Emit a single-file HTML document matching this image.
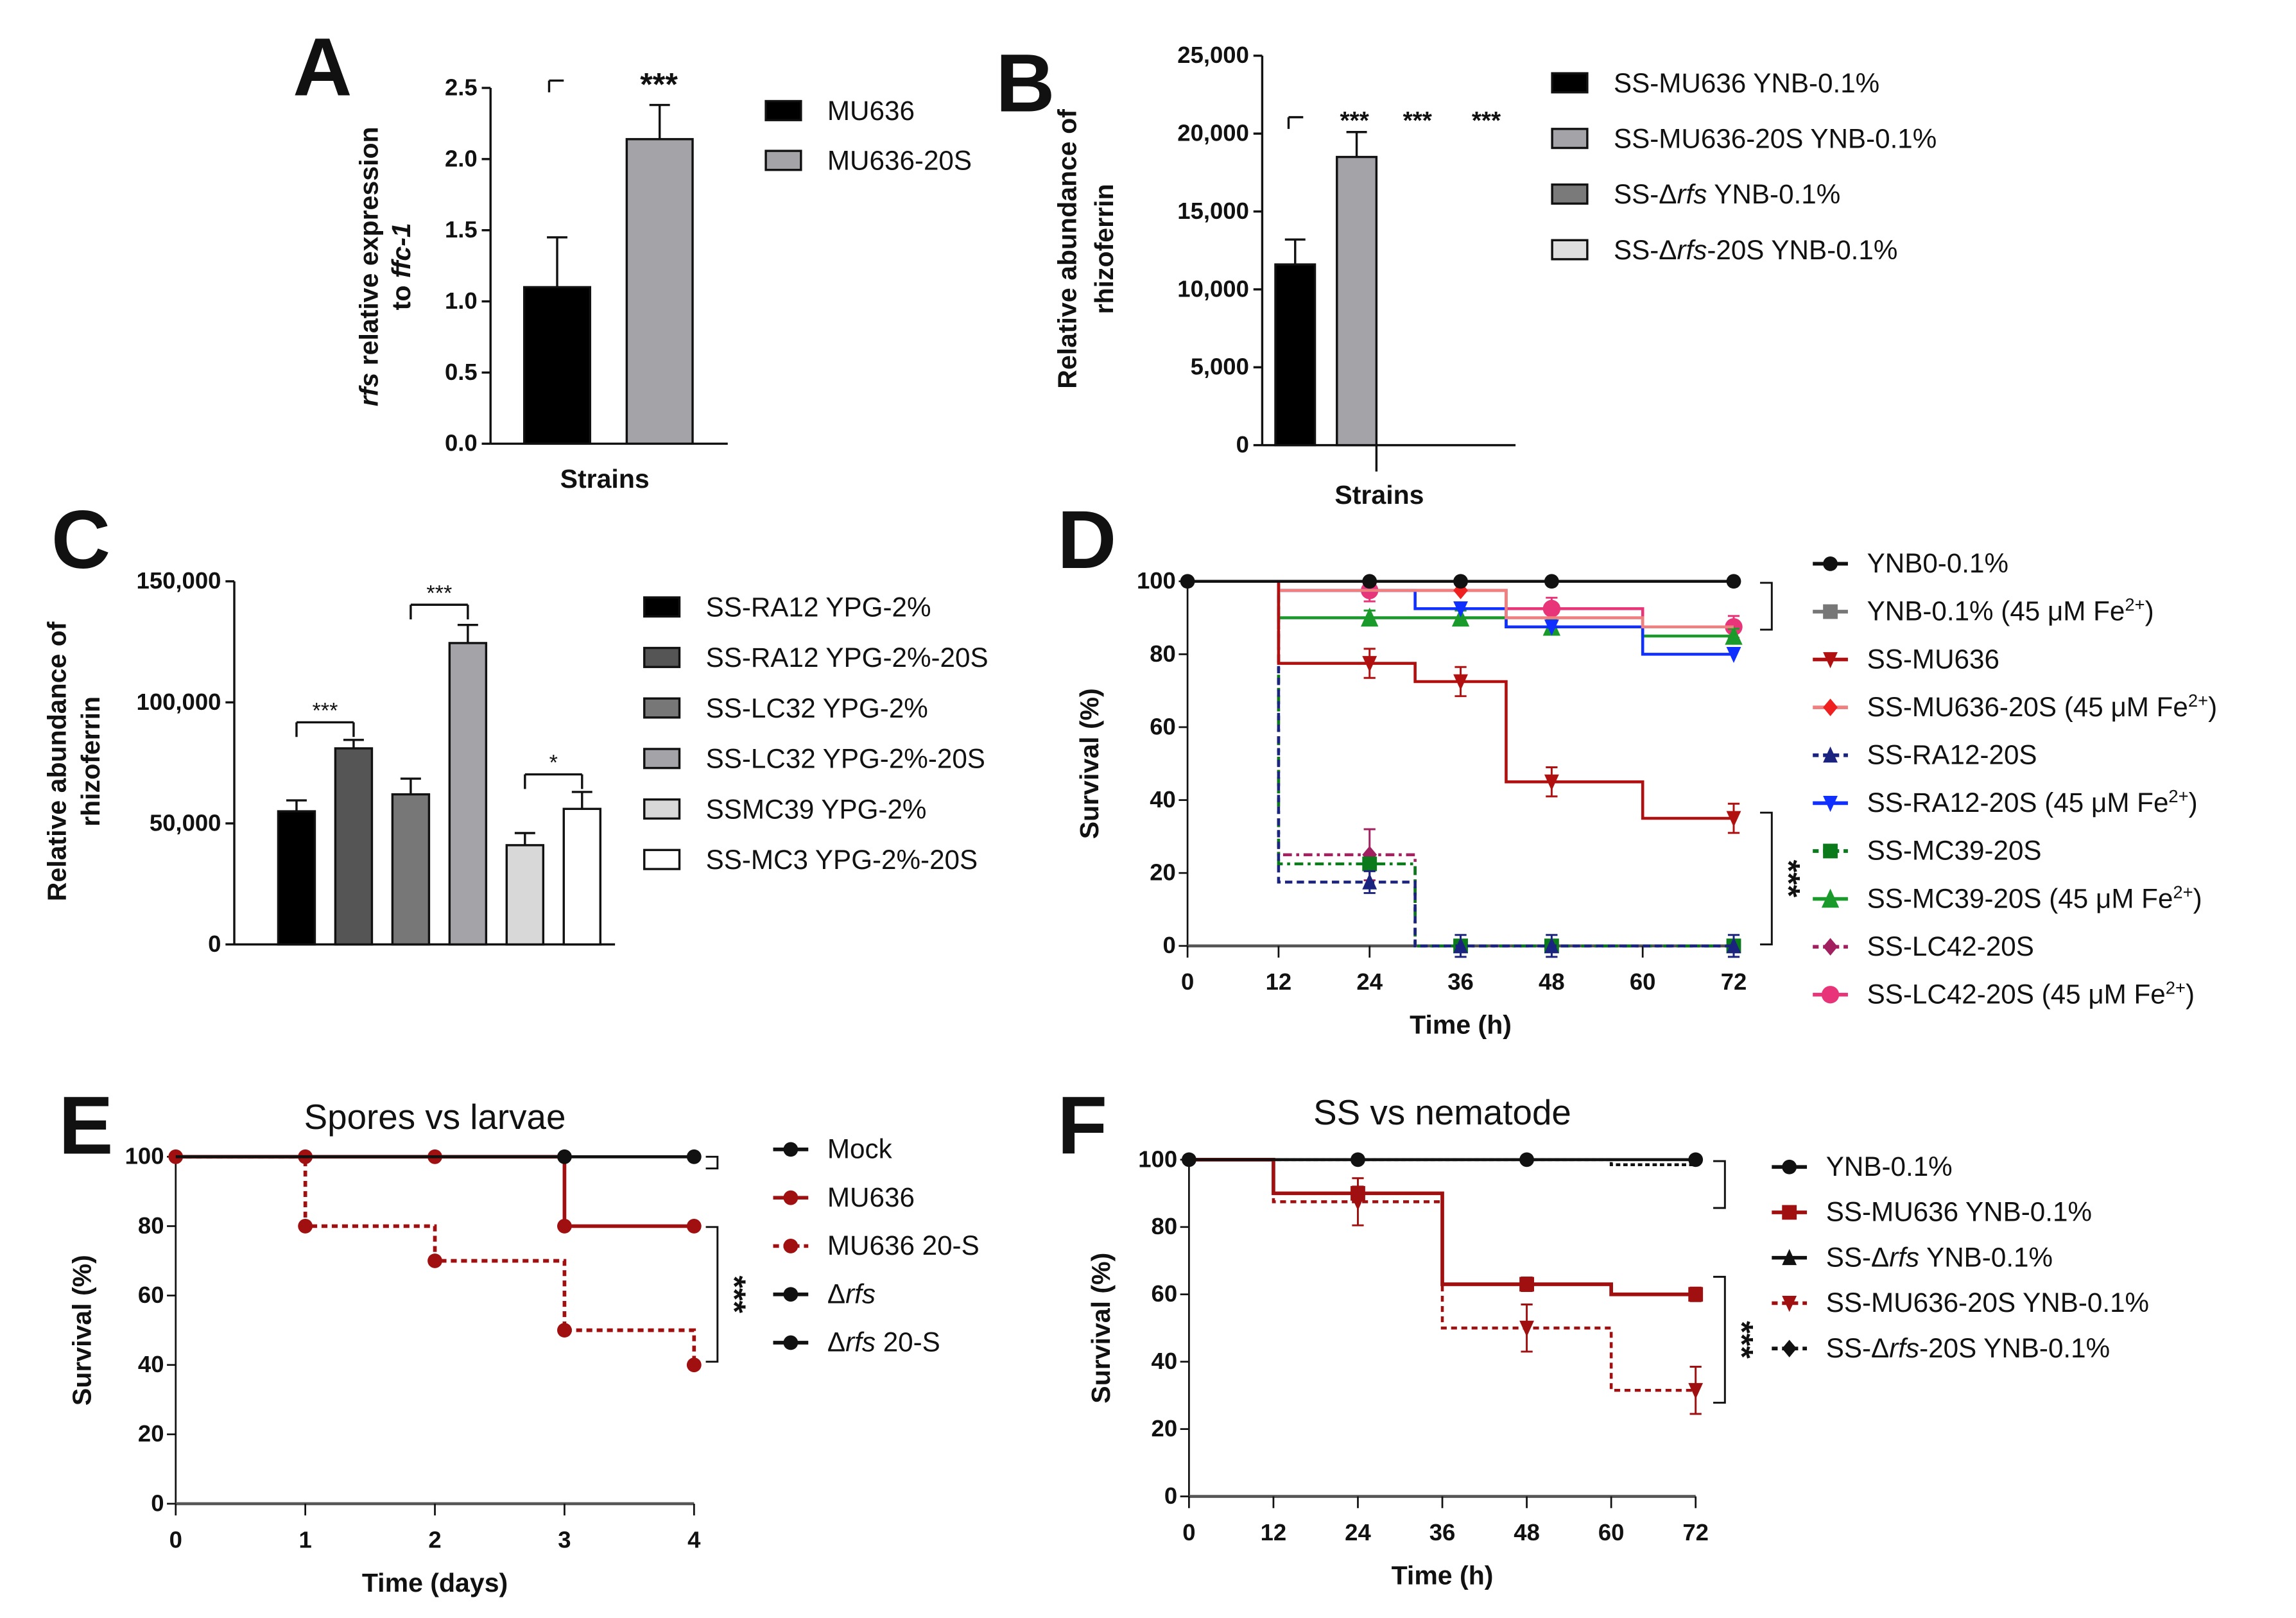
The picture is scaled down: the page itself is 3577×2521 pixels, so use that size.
<!DOCTYPE html>
<html><head><meta charset="utf-8"><style>
html,body{margin:0;padding:0;background:#fff;}
svg{display:block;font-family:"Liberation Sans",Arial,sans-serif;}
</style></head><body>
<svg id="fig" xmlns="http://www.w3.org/2000/svg" width="3577" height="2521" viewBox="0 0 1568 1105"></svg>
<script>
// ---------- DATA ----------
const aCats = ["MU636","MU636-20S"];
const aVals = [1.1, 2.14];
const aErr = [1.45, 2.38];
const aTicks = [0,0.5,1.0,1.5,2.0,2.5];
const bCats = ["SS-MU636 YNB-0.1%","SS-MU636-20S YNB-0.1%","SS-Δrfs YNB-0.1%","SS-Δrfs-20S YNB-0.1%"];
const bVals = [11600, 18500, 0, 0];
const bErr = [13200, 20100, 0, 0];
const bTicks = [0,5000,10000,15000,20000,25000];
const cCats = ["SS-RA12 YPG-2%","SS-RA12 YPG-2%-20S","SS-LC32 YPG-2%","SS-LC32 YPG-2%-20S","SSMC39 YPG-2%","SS-MC3 YPG-2%-20S"];
const cVals = [55000, 81000, 62000, 124500, 41000, 56000];
const cErr = [59500, 84500, 68500, 132000, 46000, 63000];
const cTicks = [0,50000,100000,150000];
const dTimes = [0,12,30,42,60,72];
const dYNB0 = [100,100,100,100,100,100];
const dYNBFe = [100,100,100,100,100,100];
const dMU = [100,77.5,72.5,45,35,35];
const dMUFe = [100,97.5,97.5,90,87.5,87.5];
const dRA = [100,17.5,0,0,0,0];
const dRAFe = [100,97.5,92.5,87.5,80,80];
const dMC = [100,22.5,0,0,0,0];
const dMCFe = [100,90,90,87.5,85,85];
const dLC = [100,25,0,0,0,0];
const dLCFe = [100,97.5,97.5,92.5,87.5,87.5];
const dTicksX = [0,12,24,36,48,60,72];
const dTicksY = [0,20,40,60,80,100];
const eTimes = [0,1,2,3,4];
const eMock = [100,100,100,100,100];
const eMU = [100,100,100,80,80];
const eMU20 = [100,80,70,50,40];
const eRfs = [100,100,100,100,100];
const fTimes = [0,12,36,60,72];
const fYNB = [100,100,100,100,100];
const fMU = [100,90,63,60,60];
const fMU20 = [100,87.5,50,31.5,31.5];
const fRfs = [100,100,100,100,100];
const fRfs20 = [100,100,100,98.5,98.5];

// ---------- HELPERS ----------
const NS="http://www.w3.org/2000/svg";
const svg=document.getElementById('fig');
function el(tag,attrs,parent){const e=document.createElementNS(NS,tag);for(const k in attrs)e.setAttribute(k,attrs[k]);(parent||svg).appendChild(e);return e;}
function txt(x,y,s,size,opts,parent){opts=opts||{};const t=el('text',{x:x,y:y,'font-size':size,'text-anchor':opts.anchor||'start','font-weight':opts.bold?'bold':'normal','fill':'#111'},parent);if(opts.rot)t.setAttribute('transform','rotate(-90 '+x+' '+y+')');if(opts.italic)t.setAttribute('font-style','italic');t.textContent=s;return t;}
function lin(x1,y1,x2,y2,col,w,parent,dash){const l=el('line',{x1:x1,y1:y1,x2:x2,y2:y2,stroke:col||'#111','stroke-width':w||1.5},parent);if(dash)l.setAttribute('stroke-dasharray',dash);return l;}
function fmt(v){return v.toLocaleString('en-US');}

[['A',200,65],['B',680,76],['C',35,388],['D',722,388],['E',40,788],['F',722,788]].forEach(p=>{
  const t=txt(p[1],p[2],p[0],56,{bold:true});
  
  
});

function barPanel(cfg){
  const g=el('g',{});
  
  
  const y=v=>cfg.y0-(v/cfg.max)*(cfg.y0-cfg.yTop);
  lin(cfg.x0,cfg.yTop,cfg.x0,cfg.y0,'#111',1.5,g);
  lin(cfg.x0,cfg.y0,cfg.xEnd,cfg.y0,'#111',1.5,g);
  cfg.ticks.forEach(t=>{
    lin(cfg.x0-6,y(t),cfg.x0,y(t),'#111',1.5,g);
    const lb=txt(cfg.x0-9,y(t)+5,cfg.fmt(t),16,{anchor:'end',bold:true},g);
    
    
  });
  cfg.vals.forEach((v,i)=>{
    if(v<=0)return;
    const x=cfg.bx0+i*cfg.step;
    const cx=x+cfg.bw/2;
    lin(cx,y(cfg.err[i]),cx,y(v),'#111',1.5,g);
    lin(cx-7,y(cfg.err[i]),cx+7,y(cfg.err[i]),'#111',1.5,g);
    const r=el('rect',{x:x,y:y(v),width:cfg.bw,height:cfg.y0-y(v),fill:cfg.colors[i],stroke:'#111','stroke-width':1.5},g);
    
    
  });
  cfg.cats.forEach((c,i)=>{
    const ly=cfg.legY+i*cfg.legStep;
    const sw=el('rect',{x:cfg.legX,y:ly-7,width:24,height:13,fill:cfg.colors[i],stroke:'#111','stroke-width':1.5},g);
    
    
    const t=el('text',{x:cfg.legX+42,y:ly+6,'font-size':18.5,fill:'#111'},g);
    
    
    if(c.indexOf('Δrfs')>=0){const parts=c.split('Δrfs');t.appendChild(document.createTextNode(parts[0]+'Δ'));const it=el('tspan',{'font-style':'italic'},t);it.textContent='rfs';t.appendChild(document.createTextNode(parts[1]));}
    else t.textContent=c;
  });
  return {g:g,y:y};
}

const pa=barPanel({name:'panel-a-chart',cats:aCats,vals:aVals,err:aErr,ticks:aTicks,max:2.5,x0:335,y0:303,yTop:60,xEnd:497,bx0:358,bw:45,step:70,colors:['#000','#a3a3a8'],fmt:v=>v.toFixed(1),legX:523,legY:76,legStep:34});
{const t=el('text',{x:258,y:182,'font-size':18,'font-weight':'bold','text-anchor':'middle',transform:'rotate(-90 258 182)',fill:'#111'},pa.g);
 
 
 const i1=el('tspan',{'font-style':'italic'},t);i1.textContent='rfs';t.appendChild(document.createTextNode(' relative expression'));
 const t2=el('text',{x:280,y:182,'font-size':18,'font-weight':'bold','text-anchor':'middle',transform:'rotate(-90 280 182)',fill:'#111'},pa.g);
 
 
 t2.appendChild(document.createTextNode('to '));const i2=el('tspan',{'font-style':'italic'},t2);i2.textContent='ffc-1';
 const xt=txt(413,333,'Strains',18,{anchor:'middle',bold:true},pa.g);
 
 
 lin(375,55,385,55,'#111',1.5,pa.g);lin(375,55,375,63,'#111',1.5,pa.g);
 const s=txt(450,65,'***',22,{anchor:'middle',bold:true},pa.g);
 
 
}

const pb=barPanel({name:'panel-b-chart',cats:bCats,vals:bVals,err:bErr,ticks:bTicks,max:25000,x0:862,y0:304,yTop:38,xEnd:1035,bx0:871,bw:27,step:42,colors:['#000','#a3a3a8','#7a7a7a','#e0e0e0'],fmt:fmt,legX:1060,legY:57,legStep:38});
{txt(735,170,'Relative abundance of',18,{anchor:'middle',bold:true,rot:true},pb.g);
 txt(760,170,'rhizoferrin',18,{anchor:'middle',bold:true,rot:true},pb.g);
 lin(940,304,940,322,'#111',1.5,pb.g);
 const xt=txt(942,344,'Strains',18,{anchor:'middle',bold:true},pb.g);
 
 
 lin(880,80,890,80,'#111',1.5,pb.g);lin(880,80,880,88,'#111',1.5,pb.g);
 [925,968,1015].forEach(x=>{const s=txt(x,88,'***',17,{anchor:'middle',bold:true},pb.g);});
}

const pc=barPanel({name:'panel-c-chart',cats:cCats,vals:cVals,err:cErr,ticks:cTicks,max:150000,x0:160,y0:645,yTop:397,xEnd:420,bx0:190,bw:25,step:39,colors:['#000','#555','#777','#a3a3a8','#d8d8d8','#fff'],fmt:fmt,legX:440,legY:415,legStep:34.5});
{txt(45,520,'Relative abundance of',18,{anchor:'middle',bold:true,rot:true},pc.g);
 txt(68,520,'rhizoferrin',18,{anchor:'middle',bold:true,rot:true},pc.g);
 [[0,1,'***'],[2,3,'***'],[4,5,'*']].forEach(p=>{
   const x1=190+p[0]*39+12.5,x2=190+p[1]*39+12.5;
   const top=Math.min(pc.y(cErr[p[0]]),pc.y(cErr[p[1]]))-(p[0]==2?6:12);
   const by=p[0]==2?413:top;
   lin(x1,by,x2,by,'#111',1.5,pc.g);lin(x1,by,x1,by+10,'#111',1.5,pc.g);lin(x2,by,x2,by+10,'#111',1.5,pc.g);
   const s=txt((x1+x2)/2,by-3,p[2],15,{anchor:'middle'},pc.g);
   
   
 });
}

function marker(type,cx,cy,col,size,g){
  let m;const s=size||5;
  if(type==='circle')m=el('circle',{cx:cx,cy:cy,r:s,fill:col},g);
  else if(type==='square')m=el('rect',{x:cx-s,y:cy-s,width:2*s,height:2*s,fill:col},g);
  else if(type==='tri')m=el('polygon',{points:`${cx},${cy-s-1} ${cx-s},${cy+s} ${cx+s},${cy+s}`,fill:col},g);
  else if(type==='vtri')m=el('polygon',{points:`${cx},${cy+s+1} ${cx-s},${cy-s} ${cx+s},${cy-s}`,fill:col},g);
  else m=el('polygon',{points:`${cx},${cy-s-1} ${cx+s},${cy} ${cx},${cy+s+1} ${cx-s},${cy}`,fill:col},g);
  return m;
}
function survPanel(cfg){
  const g=el('g',{});
  
  
  const X=t=>cfg.x0+(t/cfg.xmax)*(cfg.x1-cfg.x0);
  const Y=v=>cfg.y0-(v/100)*(cfg.y0-cfg.yTop);
  lin(cfg.x0,Y(100),cfg.x0,Y(0),'#111',1.2,g);
  lin(cfg.x0,Y(0),cfg.x1,Y(0),'#555',2,g);
  cfg.xt.forEach(t=>{lin(X(t),Y(0),X(t),Y(0)+8,'#111',1.2,g);
    const l=txt(X(t),Y(0)+30,String(t),16,{anchor:'middle',bold:true},g);
    
    });
  [0,20,40,60,80,100].forEach(v=>{lin(cfg.x0-6,Y(v),cfg.x0,Y(v),'#111',1.2,g);
    const l=txt(cfg.x0-8,Y(v)+5,String(v),16,{anchor:'end',bold:true},g);
    
    });
  const xl=txt((cfg.x0+cfg.x1)/2,Y(0)+60,cfg.xlabel,18,{anchor:'middle',bold:true},g);
  
  
  const yl=txt(cfg.ylx,(Y(0)+Y(100))/2,'Survival (%)',18,{anchor:'middle',bold:true,rot:true},g);
  
  
  if(cfg.title){const tt=txt((cfg.x0+cfg.x1)/2,cfg.titleY,cfg.title,24,{anchor:'middle'},g);}
  const order=cfg.series.map((s,i)=>i).reverse();
  order.forEach(si=>{
    const s=cfg.series[si];
    let d='M'+X(cfg.times[0])+','+Y(s.v[0]);
    for(let i=1;i<cfg.times.length;i++){d+=' H'+X(cfg.times[i])+' V'+Y(s.v[i]);}
    const p=el('path',{d:d,fill:'none',stroke:s.col,'stroke-width':s.w||2},g);
    if(s.dash)p.setAttribute('stroke-dasharray',s.dash);
    
    
    (s.marks||[]).forEach(mt=>{
      let v=s.v[0];for(let i=0;i<cfg.times.length;i++){if(cfg.times[i]<=mt)v=s.v[i];}
      if(s.err){lin(X(mt),Y(v-s.err),X(mt),Y(v+s.err),s.col,1.3,g);lin(X(mt)-4,Y(v+s.err),X(mt)+4,Y(v+s.err),s.col,1.3,g);lin(X(mt)-4,Y(v-s.err),X(mt)+4,Y(v-s.err),s.col,1.3,g);}
      const m=marker(s.m,X(mt),Y(v),s.mcol||s.col,s.ms,g);
      
      
    });
  });
  cfg.series.forEach((s,si)=>{
    const ly=cfg.legY+si*cfg.legStep;
    const ll=lin(cfg.legX,ly,cfg.legX+24,ly,s.col,2.5,g);
    if(s.dash)ll.setAttribute('stroke-dasharray','4,3');
    marker(s.m,cfg.legX+12,ly,s.mcol||s.col,s.ms||5,g);
    const t=el('text',{x:cfg.legX+37,y:ly+6,'font-size':18.5,fill:'#111'},g);
    
    
    s.label.forEach(part=>{const ts=el('tspan',{},t);if(part.i)ts.setAttribute('font-style','italic');if(part.sup){ts.setAttribute('baseline-shift','super');ts.setAttribute('font-size','12');}ts.textContent=part.t;});
  });
  (cfg.brackets||[]).forEach(b=>{
    const bg=el('path',{d:`M${b.x-8},${b.y1} H${b.x} V${b.y2} H${b.x-8}`,fill:'none',stroke:'#111','stroke-width':1.3},g);
    
    
    if(b.stars){const st=txt(b.x+10,(b.y1+b.y2)/2+6,'***',22,{anchor:'middle',bold:true},g);st.setAttribute('transform','rotate(90 '+(b.x+10)+' '+((b.y1+b.y2)/2)+')');}
  });
  return g;
}
const fe=[{t:' (45 '},{t:'μ'},{t:'M Fe'},{t:'2+',sup:true},{t:')'}];
survPanel({name:'panel-d-chart',x0:811,x1:1184,xmax:72,y0:646,yTop:397,times:dTimes,xt:dTicksX,xlabel:'Time (h)',ylx:750,legX:1238,legY:385,legStep:32.7,
 series:[
  {key:'ynb0',v:dYNB0,col:'#111',m:'circle',marks:[0,24,36,48,72],label:[{t:'YNB0-0.1%'}]},
  {key:'ynb-fe',v:dYNBFe,col:'#777',m:'square',marks:[],label:[{t:'YNB-0.1%'}].concat(fe)},
  {key:'ss-mu636',v:dMU,col:'#b01010',m:'vtri',marks:[24,36,48,72],err:4,label:[{t:'SS-MU636'}]},
  {key:'ss-mu636-20s-fe',v:dMUFe,col:'#f08080',mcol:'#ee2020',m:'diamond',marks:[36],label:[{t:'SS-MU636-20S'}].concat(fe)},
  {key:'ss-ra12-20s',v:dRA,col:'#1a237e',m:'tri',dash:'5,3',marks:[24,36,48,72],err:3,label:[{t:'SS-RA12-20S'}]},
  {key:'ss-ra12-20s-fe',v:dRAFe,col:'#1030ff',m:'vtri',marks:[36,48,72],label:[{t:'SS-RA12-20S'}].concat(fe)},
  {key:'ss-mc39-20s',v:dMC,col:'#0a7a1a',m:'square',dash:'6,3,2,3',marks:[24,36,48,72],label:[{t:'SS-MC39-20S'}]},
  {key:'ss-mc39-20s-fe',v:dMCFe,col:'#1a9a2a',m:'tri',ms:6,marks:[24,36,48,72],err:2,label:[{t:'SS-MC39-20S'}].concat(fe)},
  {key:'ss-lc42-20s',v:dLC,col:'#a02060',m:'diamond',dash:'6,3,2,3',marks:[24],err:7,label:[{t:'SS-LC42-20S'}]},
  {key:'ss-lc42-20s-fe',v:dLCFe,col:'#e83478',m:'circle',ms:6,marks:[24,48,72],err:3,label:[{t:'SS-LC42-20S'}].concat(fe)}
 ],
 brackets:[{x:1210,y1:398,y2:430},{x:1210,y1:555,y2:645,stars:true}]});
survPanel({name:'panel-e-chart',x0:120,x1:474,xmax:4,y0:1027,yTop:790,times:eTimes,xt:[0,1,2,3,4],xlabel:'Time (days)',ylx:62,title:'Spores vs larvae',titleY:771,legX:528,legY:785,legStep:33,
 series:[
  {key:'mock',v:eMock,col:'#111',m:'circle',marks:[3,4],label:[{t:'Mock'}]},
  {key:'mu636',v:eMU,col:'#a01010',w:2.5,m:'circle',marks:[0,1,2,3,4],label:[{t:'MU636'}]},
  {key:'mu636-20s',v:eMU20,col:'#a01010',dash:'4,3',w:2.5,m:'circle',marks:[1,2,3,4],label:[{t:'MU636 20-S'}]},
  {key:'rfs',v:eRfs,col:'#111',m:'circle',marks:[],label:[{t:'Δ'},{t:'rfs',i:true}]},
  {key:'rfs-20s',v:eRfs,col:'#111',m:'circle',marks:[],label:[{t:'Δ'},{t:'rfs',i:true},{t:' 20-S'}]}
 ],
 brackets:[{x:490,y1:790,y2:798},{x:490,y1:838,y2:930,stars:true}]});
survPanel({name:'panel-f-chart',x0:812,x1:1158,xmax:72,y0:1022,yTop:792,times:fTimes,xt:[0,12,24,36,48,60,72],xlabel:'Time (h)',ylx:758,title:'SS vs nematode',titleY:768,legX:1210,legY:797,legStep:31,
 series:[
  {key:'ynb',v:fYNB,col:'#111',m:'circle',marks:[0,24,48,72],label:[{t:'YNB-0.1%'}]},
  {key:'ss-mu636',v:fMU,col:'#a01010',w:2.5,m:'square',marks:[24,48,72],err:2,label:[{t:'SS-MU636 YNB-0.1%'}]},
  {key:'ss-rfs',v:fRfs,col:'#111',m:'tri',marks:[],label:[{t:'SS-Δ'},{t:'rfs',i:true},{t:' YNB-0.1%'}]},
  {key:'ss-mu636-20s',v:fMU20,col:'#a01010',dash:'4,3',m:'vtri',marks:[24,48,72],err:7,label:[{t:'SS-MU636-20S YNB-0.1%'}]},
  {key:'ss-rfs-20s',v:fRfs20,col:'#111',dash:'3,2',m:'diamond',marks:[],label:[{t:'SS-Δ'},{t:'rfs',i:true},{t:'-20S YNB-0.1%'}]}
 ],
 brackets:[{x:1178,y1:793,y2:825},{x:1178,y1:872,y2:958,stars:true}]});
</script>
</body></html>
